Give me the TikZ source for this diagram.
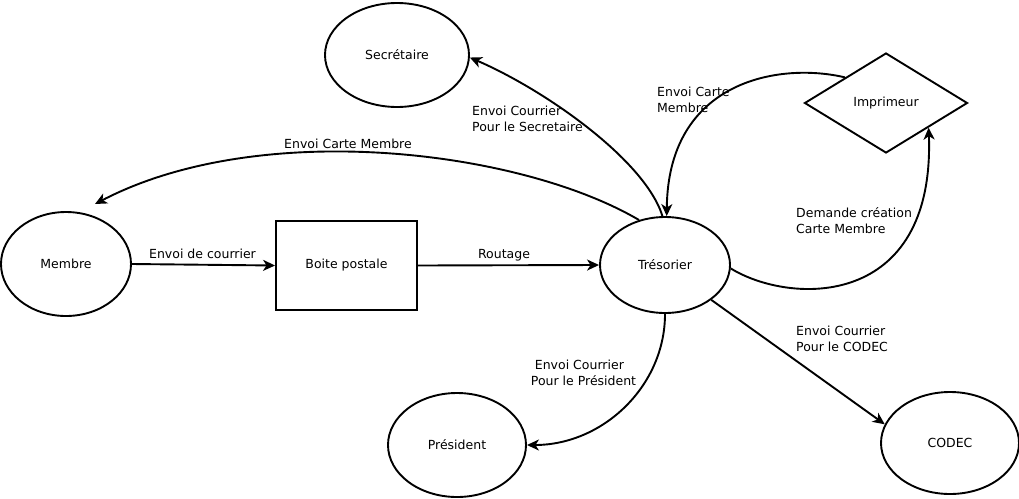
\documentclass[tikz,border=0pt]{standalone}
\usepackage{fontspec}
\setmainfont{DejaVu Sans}
\usetikzlibrary{shapes.geometric,arrows.meta}
\begin{document}
\begin{tikzpicture}[x=1pt,y=-1pt,
  every node/.style={font=\fontsize{12.5}{16}\selectfont},
  ell/.style={draw, ellipse, line width=1.9pt, inner sep=0pt},
  boxnode/.style={draw, rectangle, line width=1.9pt, inner sep=0pt, minimum width=141pt, minimum height=89pt},
  dia/.style={draw, diamond, line width=1.9pt, inner sep=0pt, minimum width=163pt, minimum height=100pt},
  conn/.style={line width=1.9pt, -{Stealth[length=12pt,width=11pt,inset=3.5pt]}},
  lbl/.style={inner sep=0pt, align=left, anchor=base west},
  clbl/.style={inner sep=0pt, anchor=base},
]
\useasboundingbox (0,0) rectangle (1019,498);
% nodes
\node[ell, minimum width=144pt, minimum height=104pt] (secr) at (397,55) {Secrétaire};
\node[ell, minimum width=130pt, minimum height=104pt] (memb) at (66,264) {Membre};
\node[boxnode] (boite) at (346.5,265.5) {Boite postale};
\node[ell, minimum width=130pt, minimum height=96pt] (tres) at (665,265) {Trésorier};
\node[dia] (imp) at (886,103) {Imprimeur};
\node[ell, minimum width=138pt, minimum height=104pt] (pres) at (457,445) {Président};
\node[ell, minimum width=138pt, minimum height=102pt] (codec) at (950,443) {CODEC};
\coordinate (mtip) at (95,204);
% connectors
\draw[conn] (memb.east) -- (boite.west);
\draw[conn] (boite.east) -- (tres.west);
\draw[conn] (tres.120) .. controls (520,150) and (260,118) .. (mtip);
\draw[conn] (tres.93) .. controls (645,160) and (545,90) .. (secr.-2);
\draw[conn] (imp.148) .. controls (780,62) and (668,80) .. (tres.88);
\draw[conn] (tres.-3) .. controls (790,305) and (935,310) .. (imp.-30);
\draw[conn] (tres.south) .. controls (665,386) and (603,445) .. (pres.east);
\draw[conn] (tres.-37) -- (codec.164);
% labels
\node[clbl] (l1) at (202.5,258.5) {Envoi de courrier};
\node[clbl] (l2) at (504,258.5) {Routage};
\node[clbl] (l3) at (348,148.5) {Envoi Carte Membre};
\node[lbl] (l4) at (472,131) {Envoi Courrier\\Pour le Secretaire};
\node[lbl] (l5) at (657,112) {Envoi Carte\\Membre};
\node[lbl] (l6) at (796,233) {Demande création\\Carte Membre};
\node[lbl] (l7) at (796,351) {Envoi Courrier\\Pour le CODEC};
\node[lbl] (l8) at (530.7,385.3) {\hspace*{4pt}Envoi Courrier\\Pour le Président};
\end{tikzpicture}
\end{document}
